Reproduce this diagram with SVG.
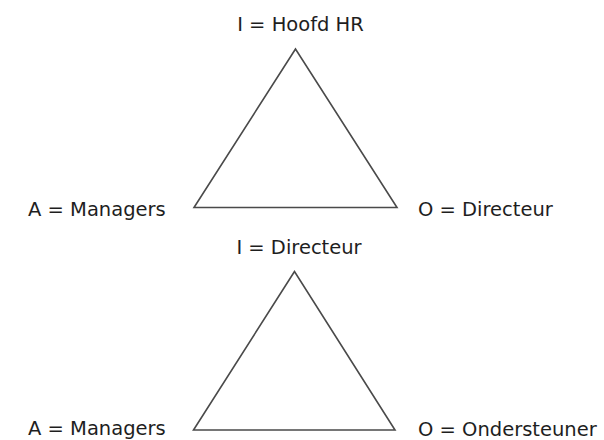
<svg xmlns="http://www.w3.org/2000/svg" width="604" height="440" viewBox="0 0 604 440">
  <style>
    .tri { fill: none; stroke: #4a4a4a; stroke-width: 1.6; stroke-linejoin: miter; }
    .lbl { font-family: "DejaVu Sans", "Noto Sans", sans-serif; font-size: 19.5px; fill: #1e1e1e; }
    .mid { text-anchor: middle; }
  </style>
  <rect width="604" height="440" fill="#fff"/>

  <!-- Upper triangle: Hoofd HR / Managers / Directeur -->
  <g id="triangle-1">
    <polygon class="tri" points="295.5,49 194,207.5 397,207.5"/>
  </g>
  <g id="label-1-top"><text class="lbl mid" x="300.5" y="31">I = Hoofd HR</text></g>
  <g id="label-1-left"><text class="lbl" x="28" y="216">A = Managers</text></g>
  <g id="label-1-right"><text class="lbl" x="418" y="216">O = Directeur</text></g>

  <!-- Lower triangle: Directeur / Managers / Ondersteuner -->
  <g id="triangle-2">
    <polygon class="tri" points="294.5,271.5 193.5,430 395,430"/>
  </g>
  <g id="label-2-top"><text class="lbl mid" x="299" y="254">I = Directeur</text></g>
  <g id="label-2-left"><text class="lbl" x="28" y="435">A = Managers</text></g>
  <g id="label-2-right"><text class="lbl" x="418" y="436">O = Ondersteuner</text></g>

  <g id="connectors"></g>
</svg>
